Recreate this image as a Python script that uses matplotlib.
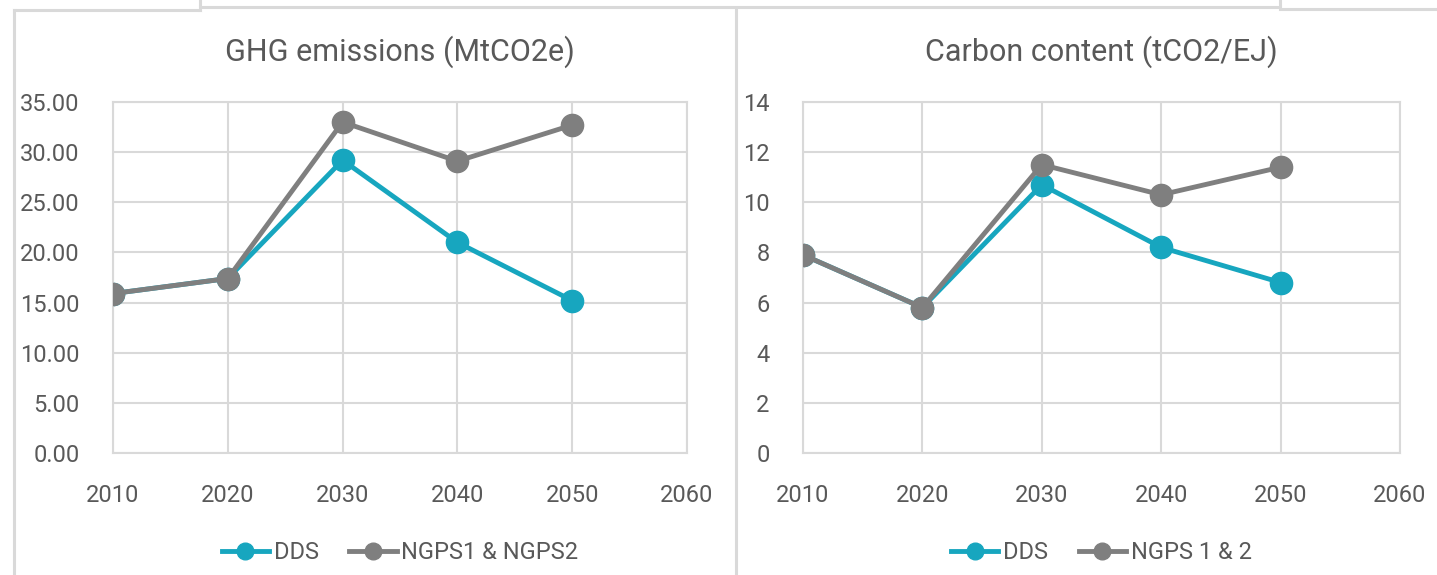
import matplotlib

matplotlib.use("Agg")
import matplotlib.pyplot as plt
from matplotlib.lines import Line2D

YEARS = [2010, 2020, 2030, 2040, 2050]

GHG_DDS = [15.9, 17.4, 29.2, 21.0, 15.2]
GHG_NGPS = [15.9, 17.4, 33.0, 29.1, 32.7]

CARBON_DDS = [7.9, 5.8, 10.7, 8.2, 6.8]
CARBON_NGPS = [7.9, 5.8, 11.5, 10.3, 11.4]

TEAL = "#17a6bf"
GREY = "#7f7f7f"
INK = "#595959"
GRID = "#d9d9d9"

plt.rcParams["font.family"] = ["Roboto", "DejaVu Sans"]

fig = plt.figure(figsize=(14.37, 5.75), dpi=100)


def panel(rect, title, dds, ngps, ymax, ystep, fmt, ngps_label):
    ax = fig.add_axes(rect)
    ax.plot(YEARS, ngps, "-o", color=GREY, lw=3.5, ms=16, zorder=3)
    ax.plot(YEARS, dds, "-o", color=TEAL, lw=3.5, ms=16, zorder=2)
    ax.set_xlim(2010, 2060)
    ax.set_ylim(0, ymax)
    ax.set_xticks(range(2010, 2061, 10))
    ticks = [i * ystep for i in range(int(round(ymax / ystep)) + 1)]
    ax.set_yticks(ticks)
    ax.set_yticklabels([fmt.format(t) for t in ticks])
    ax.grid(True, color=GRID, lw=1.5, zorder=0)
    for s in ax.spines.values():
        s.set_color(GRID)
        s.set_linewidth(1.5)
    ax.tick_params(length=0, labelsize=17, colors=INK)
    ax.tick_params(axis="y", pad=24)
    ax.tick_params(axis="x", pad=22)
    ax.set_title(title, fontsize=22, color=INK, pad=30)
    handles = [
        Line2D([], [], color=TEAL, lw=3.5, marker="o", ms=12),
        Line2D([], [], color=GREY, lw=3.5, marker="o", ms=12),
    ]
    ax.legend(handles, ["DDS", ngps_label], loc="upper center",
              bbox_to_anchor=(0.5, -0.19), ncol=2, frameon=False,
              fontsize=17, labelcolor=INK, handlelength=2.0,
              handletextpad=0.2, columnspacing=1.3)
    return ax


panel([113 / 1437, 1 - 453 / 575, 574 / 1437, 351 / 575],
      "GHG emissions (MtCO2e)", GHG_DDS, GHG_NGPS, 35, 5, "{:.2f}",
      "NGPS1 & NGPS2")
panel([803 / 1437, 1 - 453 / 575, 597 / 1437, 351 / 575],
      "Carbon content (tCO2/EJ)", CARBON_DDS, CARBON_NGPS, 14, 2, "{:.0f}",
      "NGPS 1 & 2")

# panel frames from the surrounding report layout
W, H = 1437, 575


def fline(xs, ys):
    fig.add_artist(Line2D([x / W for x in xs], [1 - y / H for y in ys],
                          color=GRID, lw=2.2))


fline([14, 14], [10, 575])
fline([14, 200], [10, 10])
fline([200, 200], [0, 10])
fline([200, 1280], [7, 7])
fline([1280, 1280], [0, 7])
fline([1280, 1437], [9, 9])
fline([736, 736], [10, 575])

fig.savefig("out.png", facecolor="white")
